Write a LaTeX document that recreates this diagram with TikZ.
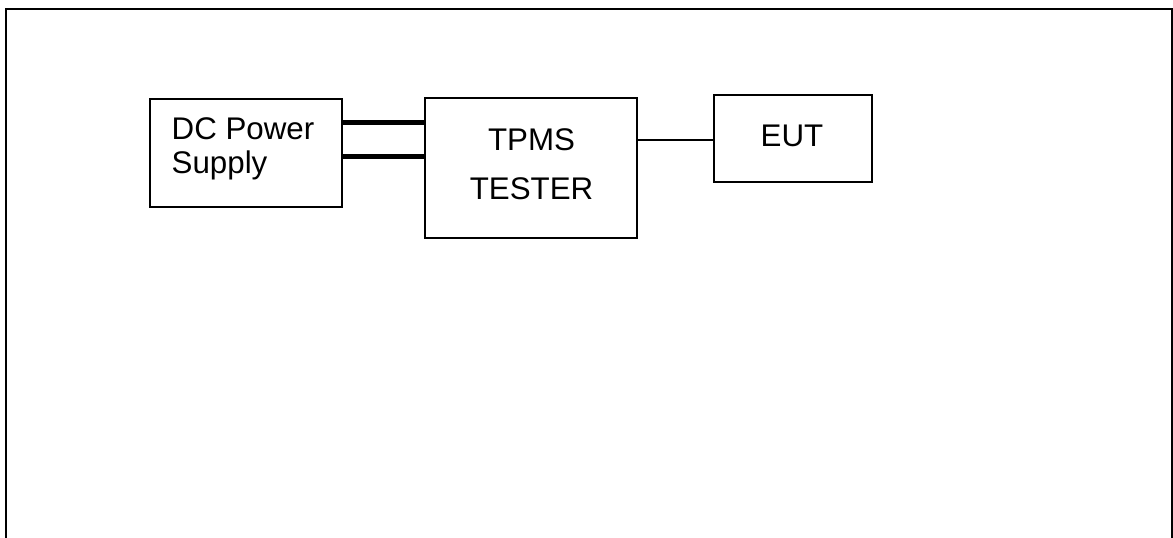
\documentclass[tikz,border=0pt]{standalone}
\usepackage{fontspec}
\setmainfont{Liberation Sans}
\begin{document}
\begin{tikzpicture}[x=1pt,y=-1pt,
  box/.style={draw=black,line width=1.5pt,inner sep=0pt},
  lbl/.style={font=\fontsize{31.3}{35}\selectfont,inner sep=0pt},
  power/.style={line width=5pt},
  signal/.style={line width=1.2pt}]
\useasboundingbox (0,0) rectangle (1173,538);
\begin{scope}
\clip (0,0) rectangle (1173,538);
\draw[line width=2.2pt] (6,9) rectangle (1172,560);
\end{scope}
\node[box,minimum width=192pt,minimum height=108pt] (dc) at (246,153) {};
\node[box,minimum width=212pt,minimum height=140pt] (tpms) at (531,168) {};
\node[box,minimum width=158pt,minimum height=87pt] (eut) at (793,138.5) {};
\node[lbl,anchor=base west] (dc1) at (171.5,139.3) {DC Power};
\node[lbl,anchor=base west] (dc2) at (171.5,173.5) {Supply};
\node[lbl,anchor=base] (t1) at (531.5,150.7) {TPMS};
\node[lbl,anchor=base] (t2) at (531.5,199.3) {TESTER};
\node[lbl,anchor=base] (e1) at (792,146.7) {EUT};
\draw[power] (dc.east |- 0,122.5) -- (tpms.west |- 0,122.5);
\draw[power] (dc.east |- 0,156.5) -- (tpms.west |- 0,156.5);
\draw[signal] (tpms.east |- 0,140) -- (eut.west |- 0,140);
\end{tikzpicture}
\end{document}
